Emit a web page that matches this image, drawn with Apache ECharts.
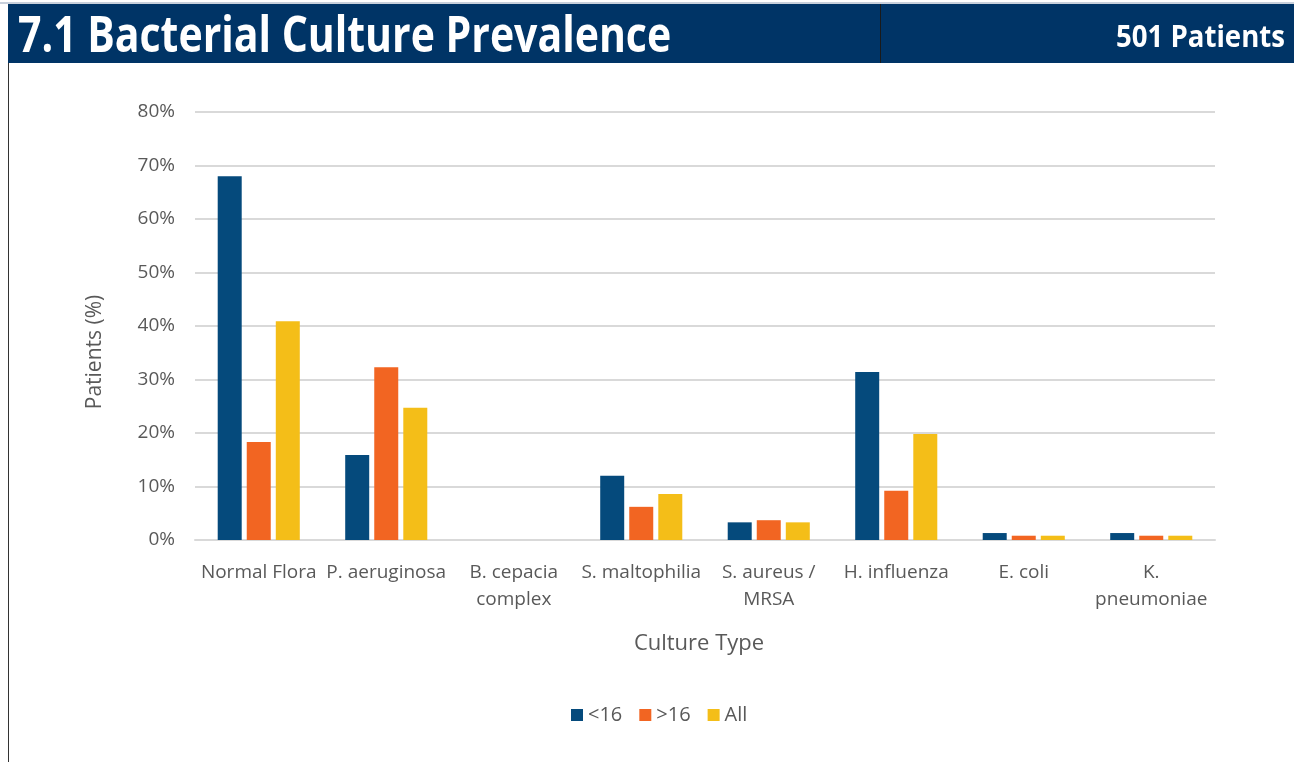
<!DOCTYPE html>
<html><head><meta charset="utf-8">
<script src="https://cdn.jsdelivr.net/npm/echarts@6/dist/echarts.min.js"></script>
<style>html,body{margin:0;padding:0;background:#fff}#c{width:1294px;height:762px}</style>
</head><body><div id="c"></div>
<script>
const categories = ['Normal Flora','P. aeruginosa','B. cepacia\ncomplex','S. maltophilia','S. aureus /\nMRSA','H. influenza','E. coli','K.\npneumoniae'];
const under16 = [68.0, 15.9, 0, 12.0, 3.3, 31.4, 1.3, 1.3];
const over16 = [18.3, 32.3, 0, 6.2, 3.7, 9.2, 0.8, 0.8];
const allPatients = [40.9, 24.7, 0, 8.6, 3.3, 19.8, 0.8, 0.8];
const seriesNames = ['<16', '>16', 'All'];
const colors = ['#054a7c', '#f26522', '#f4be18'];

const chart = echarts.init(document.getElementById('c'), null, {renderer:'canvas'});
const font = '"Open Sans", Lato, sans-serif';
const barSeries = [under16, over16, allPatients].map((d, i) => ({
  name: seriesNames[i], type: 'bar', data: d, barWidth: 24, barGap: '21%',
  itemStyle: {color: colors[i]}
}));
chart.setOption({
  animation: false,
  graphic: [
    {type:'rect', shape:{x:8, y:4, width:1286, height:59}, style:{fill:'#003466'}},
    {type:'rect', shape:{x:0, y:2, width:1294, height:2}, style:{fill:'#c8d0dc'}},
    {type:'rect', shape:{x:880, y:4, width:1, height:59}, style:{fill:'#1a1a1a'}},
    {type:'rect', shape:{x:8, y:63, width:1, height:699}, style:{fill:'#333'}},
    {type:'text', x:18, y:13, scaleX:0.82, style:{text:'7.1 Bacterial Culture Prevalence', fill:'#fff', font:'bold 50px "Open Sans", sans-serif', verticalAlign:'top'}},
    {type:'text', x:1285, y:23, scaleX:0.92, style:{text:'501 Patients', fill:'#fff', font:'bold 30px "Open Sans", sans-serif', align:'right', verticalAlign:'top'}},
    {type:'text', x:95, y:352, rotation:Math.PI/2, style:{text:'Patients (%)', fill:'#595959', font:'21px ' + font, align:'center', verticalAlign:'middle'}}
  ],
  grid: {left:195, right:79, top:112, bottom:222},
  legend: {bottom:32, left:566, itemWidth:12, itemHeight:12, itemGap:17,
    textStyle:{fontFamily:font, fontSize:20, color:'#595959'}, icon:'rect'},
  xAxis: {type:'category', data:categories, name:'Culture Type', nameLocation:'middle', nameGap:93,
    nameTextStyle:{fontFamily:font, fontSize:22, color:'#595959', padding:[0,12,0,0]},
    axisLine:{lineStyle:{color:'#d9d9d9', width:2}}, axisTick:{show:false},
    axisLabel:{fontFamily:font, fontSize:19, color:'#595959', interval:0, margin:19, lineHeight:27}},
  yAxis: {type:'value', min:0, max:80, interval:10,
    axisLabel:{formatter:'{value}%', fontFamily:font, fontSize:19, color:'#595959', margin:20},
    splitLine:{lineStyle:{color:'#d9d9d9', width:2}}},
  series: barSeries
});
</script></body></html>
